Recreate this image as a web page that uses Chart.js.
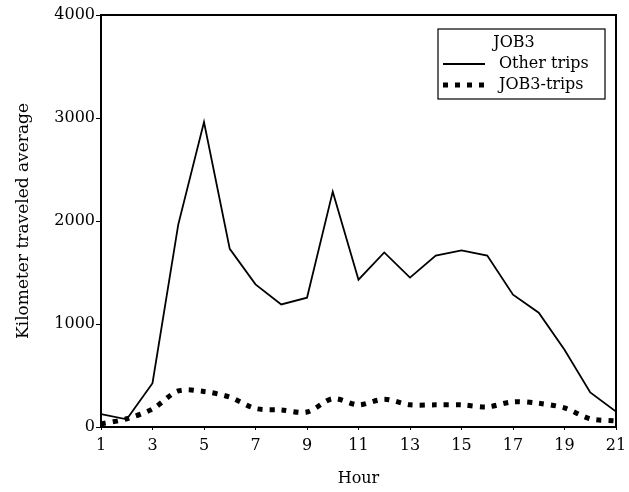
<!DOCTYPE html>
<html>
<head>
<meta charset="utf-8">
<script src="https://cdn.jsdelivr.net/npm/chart.js@4/dist/chart.umd.min.js"></script>
<style>
  html, body { margin: 0; padding: 0; background: #fff; }
  #wrap { width: 629px; height: 492px; }
</style>
</head>
<body>
<div id="wrap"><canvas id="chart" width="629" height="492"></canvas></div>
<script>
const hours = [1, 2, 3, 4, 5, 6, 7, 8, 9, 10, 11, 12, 13, 14, 15, 16, 17, 18, 19, 20, 21];
const otherTrips = [125, 75, 425, 1965, 2960, 1730, 1385, 1190, 1255, 2285, 1430, 1695, 1450, 1665, 1715, 1665, 1285, 1110, 750, 335, 150];
const job3Trips = [30, 80, 175, 350, 345, 290, 180, 165, 145, 275, 215, 270, 215, 215, 215, 195, 245, 230, 185, 80, 60];
const legendTitle = "JOB3";
const seriesNames = ["Other trips", "JOB3-trips"];

const serif = "'DejaVu Serif', 'Liberation Serif', serif";

const toPoints = (vals) => vals.map((v, i) => ({ x: hours[i], y: v }));

// frame on top/right plus the boxed legend inside the plot
const framePlugin = {
  id: "frame",
  afterDraw(chart) {
    const { ctx, chartArea: a } = chart;
    ctx.save();
    ctx.strokeStyle = "#000";
    ctx.lineWidth = 2;
    ctx.beginPath();
    ctx.moveTo(a.left, a.top);
    ctx.lineTo(a.right, a.top);
    ctx.lineTo(a.right, a.bottom);
    ctx.stroke();

    const bx = a.right - 178, by = a.top + 14, bw = 167, bh = 70;
    ctx.fillStyle = "#fff";
    ctx.fillRect(bx, by, bw, bh);
    ctx.lineWidth = 1.2;
    ctx.strokeRect(bx, by, bw, bh);

    ctx.fillStyle = "#000";
    ctx.font = "16px " + serif;
    ctx.textBaseline = "middle";
    ctx.textAlign = "center";
    ctx.fillText(legendTitle, bx + 76, by + 14);
    ctx.textAlign = "left";

    const ds = chart.data.datasets;
    [0, 1].forEach((k) => {
      const y = by + 35 + k * 21;
      ctx.save();
      ctx.strokeStyle = ds[k].borderColor;
      ctx.lineWidth = ds[k].borderWidth;
      ctx.setLineDash(ds[k].borderDash || []);
      ctx.beginPath();
      ctx.moveTo(bx + 5, y);
      ctx.lineTo(bx + 47, y);
      ctx.stroke();
      ctx.restore();
      ctx.fillText(seriesNames[k], bx + 61, y);
    });
    ctx.restore();
  },
};

new Chart(document.getElementById("chart"), {
  type: "line",
  data: {
    datasets: [
      {
        label: seriesNames[0],
        data: toPoints(otherTrips),
        borderColor: "#000",
        borderWidth: 1.8,
        pointRadius: 0,
        tension: 0,
        fill: false,
      },
      {
        label: seriesNames[1],
        data: toPoints(job3Trips),
        borderColor: "#000",
        borderWidth: 5,
        borderDash: [5, 7],
        pointRadius: 0,
        tension: 0.3,
        fill: false,
      },
    ],
  },
  options: {
    responsive: false,
    animation: false,
    layout: { padding: { left: 0, right: 13, top: 15, bottom: 0 } },
    plugins: { legend: { display: false }, tooltip: { enabled: false } },
    scales: {
      x: {
        type: "linear",
        min: 1,
        max: 21,
        ticks: { stepSize: 2, color: "#000", font: { family: serif, size: 16 }, padding: 6, maxRotation: 0, callback: (v) => String(v) },
        grid: { display: true, drawOnChartArea: false, drawTicks: true, tickLength: 3, color: "#000" },
        border: { display: true, color: "#000", width: 2 },
        title: { display: true, text: "Hour", color: "#000", font: { family: serif, size: 16 }, padding: { top: 9 } },
        afterFit: (s) => { s.height = 65; s.paddingRight = 0; s.paddingLeft = 0; },
      },
      y: {
        min: 0,
        max: 4000,
        ticks: { stepSize: 1000, color: "#000", font: { family: serif, size: 16 }, padding: 1, callback: (v) => String(v) },
        grid: { display: true, drawOnChartArea: false, drawTicks: true, tickLength: 5, color: "#000" },
        border: { display: true, color: "#000", width: 2 },
        title: { display: true, text: "Kilometer traveled average", color: "#000", font: { family: serif, size: 17 }, padding: { top: 13 } },
        afterFit: (s) => { s.width = 101; },
      },
    },
  },
  plugins: [framePlugin],
});
</script>
</body>
</html>
